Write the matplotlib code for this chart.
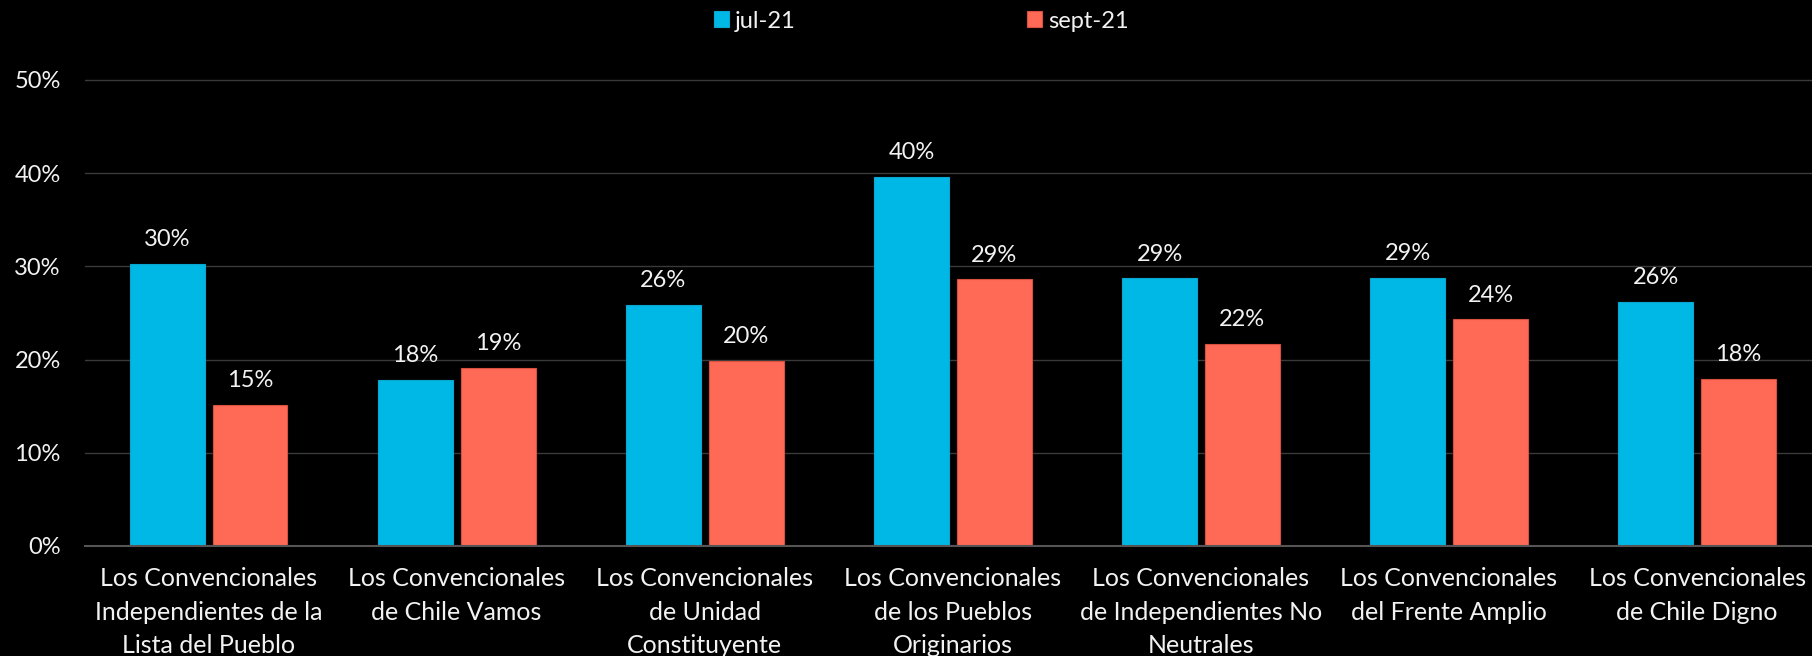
import matplotlib
matplotlib.use("Agg")
import matplotlib.pyplot as plt
import numpy as np
from matplotlib.ticker import PercentFormatter

plt.rcParams["font.family"] = ["Lato", "DejaVu Sans"]

categories = [
    "Los Convencionales\nIndependientes de la\nLista del Pueblo",
    "Los Convencionales\nde Chile Vamos",
    "Los Convencionales\nde Unidad\nConstituyente",
    "Los Convencionales\nde los Pueblos\nOriginarios",
    "Los Convencionales\nde Independientes No\nNeutrales",
    "Los Convencionales\ndel Frente Amplio",
    "Los Convencionales\nde Chile Digno",
]
series_names = ["jul-21", "sept-21"]
jul21 = [0.303, 0.178, 0.259, 0.396, 0.287, 0.288, 0.262]
sept21 = [0.151, 0.191, 0.199, 0.286, 0.217, 0.243, 0.179]
yticks = [0, 0.1, 0.2, 0.3, 0.4, 0.5]

text_col = "#F2F2F2"
blue = "#00B8E6"
red = "#FF6A57"

W, H = 1812, 656
fig = plt.figure(figsize=(W / 100, H / 100), dpi=100, facecolor="black")
ax = fig.add_axes([84.5 / W, (H - 546) / H, 1 - 84.5 / W, (546 - 79) / H])
ax.set_facecolor("black")

x = np.arange(len(categories))
bw = 0.302
off = bw / 2 + 0.016

b1 = ax.bar(x - off, jul21, bw, color=blue, edgecolor="#0AA6D0", linewidth=0.8,
            label=series_names[0], zorder=3)
b2 = ax.bar(x + off, sept21, bw, color=red, edgecolor="#D9503F", linewidth=0.8,
            label=series_names[1], zorder=3)

for bars in (b1, b2):
    for b in bars:
        h = b.get_height()
        ax.annotate(f"{h:.0%}", (b.get_x() + b.get_width() / 2, h),
                    xytext=(0, 10), textcoords="offset points",
                    ha="center", va="bottom", color=text_col, fontsize=17)

ax.set_xlim(-0.5, (W - 84.5) / 248.1 - 0.5)
ax.set_ylim(0, 0.501)
ax.set_yticks(yticks)
ax.yaxis.set_major_formatter(PercentFormatter(1.0, decimals=0))
ax.set_xticks(x)
ax.set_xticklabels(categories, linespacing=1.57)

ax.grid(axis="y", color="#3A3A3A", linewidth=1, zorder=0)
for s in ("top", "right", "left"):
    ax.spines[s].set_visible(False)
ax.spines["bottom"].set_color("#555555")
ax.spines["bottom"].set_linewidth(1.5)
ax.spines["bottom"].set_zorder(4)

ax.tick_params(axis="y", length=0, pad=17, labelcolor=text_col, labelsize=17)
ax.tick_params(axis="x", length=0, pad=15, labelcolor=text_col, labelsize=18)

fig.legend(loc="center", bbox_to_anchor=(921.5 / W, 1 - 21 / H), ncol=2,
           frameon=False, fontsize=17, labelcolor=text_col,
           handlelength=0.64, handleheight=0.64, handletextpad=0.25,
           columnspacing=9.8)

fig.savefig("out.png", dpi=100, facecolor="black")
